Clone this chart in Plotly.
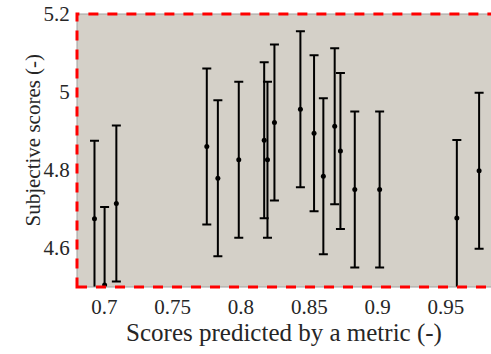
import plotly.graph_objects as go

# Metric predictions vs. subjective scores (mean ± 95% interval)
predicted = [0.6928, 0.7002, 0.7088, 0.7750, 0.7831, 0.7984, 0.8170, 0.8194,
             0.8245, 0.8435, 0.8535, 0.8603, 0.8686, 0.8728, 0.8833, 0.9015,
             0.9580, 0.9743]
subjective = [4.675, 4.505, 4.714, 4.860, 4.779, 4.826, 4.876, 4.826,
              4.922, 4.956, 4.894, 4.784, 4.912, 4.849, 4.750, 4.750,
              4.677, 4.798]
interval = [0.2] * len(predicted)

x_ticks = [0.7, 0.75, 0.8, 0.85, 0.9, 0.95]
x_tick_text = ["0.7", "0.75", "0.8", "0.85", "0.9", "0.95"]
y_ticks = [4.6, 4.8, 5.0, 5.2]
y_tick_text = ["4.6", "4.8", "5", "5.2"]

font = dict(family="Liberation Serif", size=21, color="#262626")

fig = go.Figure()
fig.add_trace(go.Scatter(
    x=predicted, y=subjective, mode="markers",
    marker=dict(color="black", size=5),
    error_y=dict(type="data", array=interval, color="black", thickness=2, width=4.5),
    showlegend=False,
))

fig.update_layout(
    width=491, height=354,
    margin=dict(l=77, r=0, t=14, b=67),
    paper_bgcolor="white",
    plot_bgcolor="#d4d0c8",
    font=font,
    xaxis=dict(
        range=[0.68, 0.983], tickvals=x_ticks, ticktext=x_tick_text,
        showgrid=False, zeroline=False, ticks="outside", ticklen=1,
        tickcolor="rgba(0,0,0,0)",
        title=dict(text="Scores predicted by a metric (-)", standoff=2),
    ),
    yaxis=dict(
        range=[4.5, 5.2], tickvals=y_ticks, ticktext=y_tick_text,
        showgrid=False, zeroline=False, ticks="outside", ticklen=2,
        tickcolor="rgba(0,0,0,0)",
    ),
    annotations=[
        dict(text="Subjective scores (-)", xref="paper", yref="paper",
             x=0, y=0.5, xanchor="center", yanchor="middle", textangle=-90,
             xshift=-45, yshift=10, showarrow=False),
    ],
    # frame runs past the right edge of the canvas, so only three sides show
    shapes=[
        dict(type="rect", xref="paper", yref="paper", x0=0, x1=1.05, y0=0, y1=1,
             line=dict(color="#a0a0a0", width=1), layer="above"),
        dict(type="rect", xref="paper", yref="paper", x0=0, x1=1.05, y0=0, y1=1,
             line=dict(color="#ff0000", width=3, dash="10px,9px"), layer="above"),
    ],
)

fig.write_html("out.html")
